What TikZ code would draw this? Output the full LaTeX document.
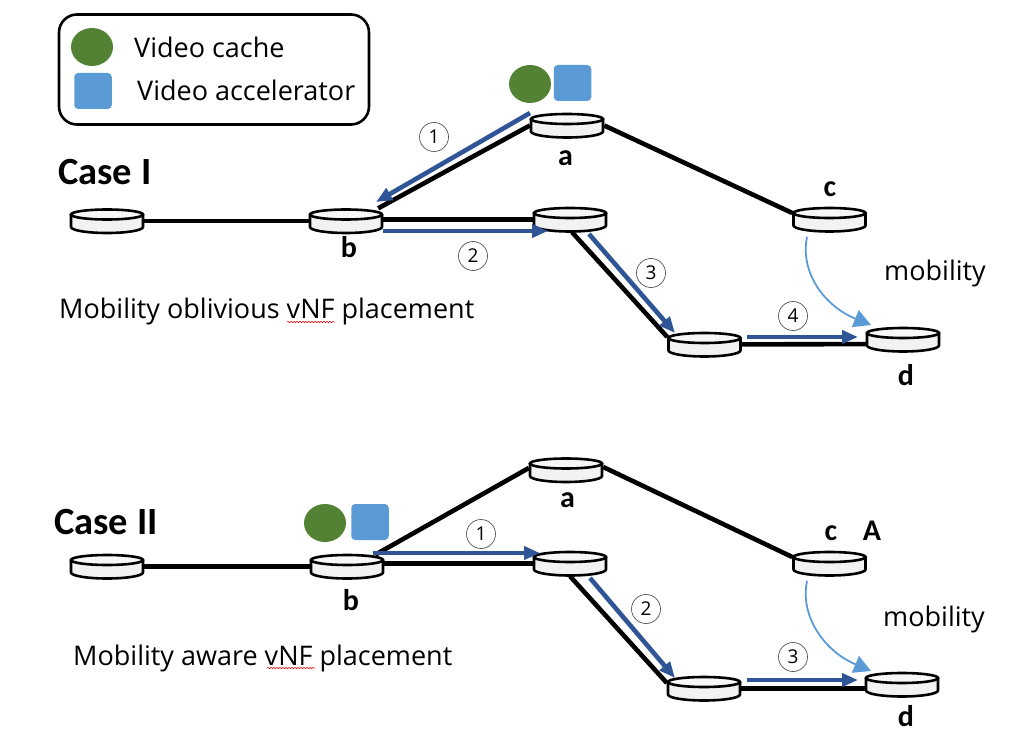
\documentclass[tikz,border=0pt]{standalone}
\usepackage{fontspec}
\setmainfont{Open Sans}
\newfontfamily\carl{Carlito}
\usetikzlibrary{arrows.meta,decorations.pathmorphing,shapes.geometric}
\definecolor{flow}{HTML}{2F5597}
\definecolor{mob}{HTML}{5B9BD5}
\definecolor{cachegreen}{HTML}{548235}
\tikzset{
 x=1pt,y=-1pt,
 diskanchor/.style={inner sep=0pt,minimum width=74pt,minimum height=25pt},
 link/.style={line width=4.6pt,black},
 flowarrow/.style={line width=4.6pt,flow,-{Triangle[length=16pt,width=13pt]}},
 mobarrow/.style={line width=1.8pt,mob,-{Triangle[length=17pt,width=18pt]}},
 stepnum/.style={draw=black!75,circle,line width=0.6pt,minimum size=29pt,inner sep=0pt,font=\fontsize{19}{19}\selectfont},
 boldlab/.style={font=\carl\bfseries\fontsize{30}{30}\selectfont,inner sep=0pt,anchor=base},
 caselab/.style={font=\carl\bfseries\fontsize{38.5}{38.5}\selectfont,inner sep=0pt,anchor=base west},
 txt/.style={font=\fontsize{27}{27}\selectfont,inner sep=0pt,anchor=base west},
 cachedot/.style={ellipse,fill=cachegreen,inner sep=0pt,minimum width=42pt,minimum height=38pt},
 accel/.style={rectangle,rounded corners=4pt,fill=mob,inner sep=0pt,minimum width=37.5pt,minimum height=36pt},
 squiggle/.style={red,line width=0.5pt,decorate,decoration={snake,amplitude=0.7pt,segment length=3pt}},
}
\newcommand{\diskat}[1]{%
 \draw[line width=2.6pt,black,fill=black!5,line join=round] ([shift={(-36,-6.5)}]#1.center) -- ([shift={(-36,6)}]#1.center) arc[start angle=180,end angle=360,x radius=36pt,y radius=6pt] -- ([shift={(36,-6.5)}]#1.center) -- cycle;
 \draw[line width=2.6pt,black,fill=black!3] ([shift={(0,-6.5)}]#1.center) ellipse[x radius=36pt,y radius=5pt];
}
\begin{document}
\begin{tikzpicture}
\useasboundingbox (0,0) rectangle (1017,743);
% case I disks
\node[diskanchor] (La) at (567,125.5) {};
\node[diskanchor] (Lb) at (346,221) {};
\node[diskanchor] (Ll) at (107,221) {};
\node[diskanchor] (Lm) at (570,219.5) {};
\node[diskanchor] (Lc) at (829.5,219.5) {};
\node[diskanchor] (Le) at (704.5,344.5) {};
\node[diskanchor] (Ld) at (903,339.5) {};
% case II disks
\node[diskanchor] (Ma) at (566,470) {};
\node[diskanchor] (Mb) at (347,566.5) {};
\node[diskanchor] (Ml) at (107,566.5) {};
\node[diskanchor] (Mm) at (570,563.5) {};
\node[diskanchor] (Mc) at (829.5,563.5) {};
\node[diskanchor] (Me) at (704,688.5) {};
\node[diskanchor] (Md) at (902,684.5) {};
% links
\draw[link] (Ll.center) -- (Lb.center);
\draw[link] ([yshift=1.5pt]Lb.center) -- ([yshift=0pt]Lm.center);
\draw[link] (La.west) -- ([xshift=-5pt]Lb.north east);
\draw[link] (La.east) -- ([yshift=6.5pt]Lc.west);
\draw[link] ([xshift=2pt]Lm.south) -- ([yshift=7.5pt]Le.west);
\draw[link] (Le.center) -- ([yshift=-4.5pt]Ld.center);
\draw[link] (Ml.center) -- (Mb.center);
\draw[link] ([yshift=3pt]Mb.center) -- (Mm.center);
\draw[link] ([yshift=2pt]Ma.west) -- ([xshift=-9pt,yshift=-1pt]Mb.north east);
\draw[link] ([yshift=3pt]Ma.east) -- ([yshift=6.5pt]Mc.west);
\draw[link] ([yshift=0pt]Mm.south) -- ([yshift=5.5pt]Me.west);
\draw[link] (Me.center) -- ([yshift=-4pt]Md.center);
\foreach \n in {La,Lb,Ll,Lm,Lc,Le,Ld,Ma,Mb,Ml,Mm,Mc,Me,Md}{\diskat{\n}}
% legend
\node[draw,line width=2.6pt,rounded corners=18pt,minimum width=310pt,minimum height=110pt,inner sep=0pt] (legend) at (214,69.5) {};
\node[cachedot,minimum width=42pt] (legc) at (92,47) {};
\node[accel] (lega) at (93,91) {};
\node[txt] (legct) at (134,57.5) {Video cache};
\node[txt] (legat) at (137,101) {Video accelerator};
% case I labels
\node[caselab] (c1) at (58,185) {Case I};
\node[boldlab] (la) at (565.5,166) {a};
\node[boldlab] (lb) at (349,258) {b};
\node[boldlab] (lc) at (830,197) {c};
\node[boldlab] (ld) at (906,385) {d};
\node[txt] (mob1) at (884,281) {mobility};
\node[txt] (pl1) at (59,319) {Mobility oblivious vNF placement};
\node[cachedot] (c1d) at (530,84) {};
\node[accel] (a1d) at (572.5,83) {};
% case II labels
\node[caselab] (c2) at (54,534) {Case II};
\node[boldlab] (ma) at (567.5,507) {a};
\node[boldlab] (mbl) at (351,610) {b};
\node[boldlab] (mcl) at (831,540) {c};
\node[boldlab] (mA) at (872,540) {A};
\node[boldlab] (mdl) at (906,726) {d};
\node[txt] (mob2) at (883,626) {mobility};
\node[txt] (pl2) at (73,665) {Mobility aware vNF placement};
\node[cachedot] (c2d) at (325,523) {};
\node[accel] (a2d) at (370,522) {};
% squiggles
\coordinate (s1a) at (287,322); \coordinate (s1b) at (335,322);
\coordinate (s2a) at (267,668); \coordinate (s2b) at (315,668);
\draw[squiggle] (s1a) -- (s1b);
\draw[squiggle] (s2a) -- (s2b);
% flow arrows case I
\coordinate (f1a) at (530,113); \coordinate (f1b) at (376,202);
\coordinate (f2a) at (383,231); \coordinate (f2b) at (548,231);
\coordinate (f3a) at (589,234); \coordinate (f3b) at (675,333);
\coordinate (f4a) at (747,337); \coordinate (f4b) at (858,337);
\draw[flowarrow] (f1a) -- (f1b);
\draw[flowarrow] (f2a) -- (f2b);
\draw[flowarrow] (f3a) -- (f3b);
\draw[flowarrow] (f4a) -- (f4b);
\node[stepnum] (n1) at (434,137) {1};
\node[stepnum] (n2) at (473,256) {2};
\node[stepnum] (n3) at (651,273) {3};
\node[stepnum] (n4) at (793,316) {4};
\coordinate (m1a) at (807,237); \coordinate (m1b) at (871,325);
\draw[mobarrow] (m1a) .. controls (800,270) and (822,305) .. (m1b);
% flow arrows case II
\coordinate (g1a) at (373,553); \coordinate (g1b) at (540,553);
\coordinate (g2a) at (590,578); \coordinate (g2b) at (675,678);
\coordinate (g3a) at (747,680); \coordinate (g3b) at (858,680);
\draw[flowarrow] (g1a) -- (g1b);
\draw[flowarrow] (g2a) -- (g2b);
\draw[flowarrow] (g3a) -- (g3b);
\node[stepnum] (k1) at (481,534) {1};
\node[stepnum] (k2) at (646,609) {2};
\node[stepnum] (k3) at (793,657) {3};
\coordinate (m2a) at (807,581); \coordinate (m2b) at (871,671);
\draw[mobarrow] (m2a) .. controls (800,614) and (822,650) .. (m2b);
\end{tikzpicture}
\end{document}
